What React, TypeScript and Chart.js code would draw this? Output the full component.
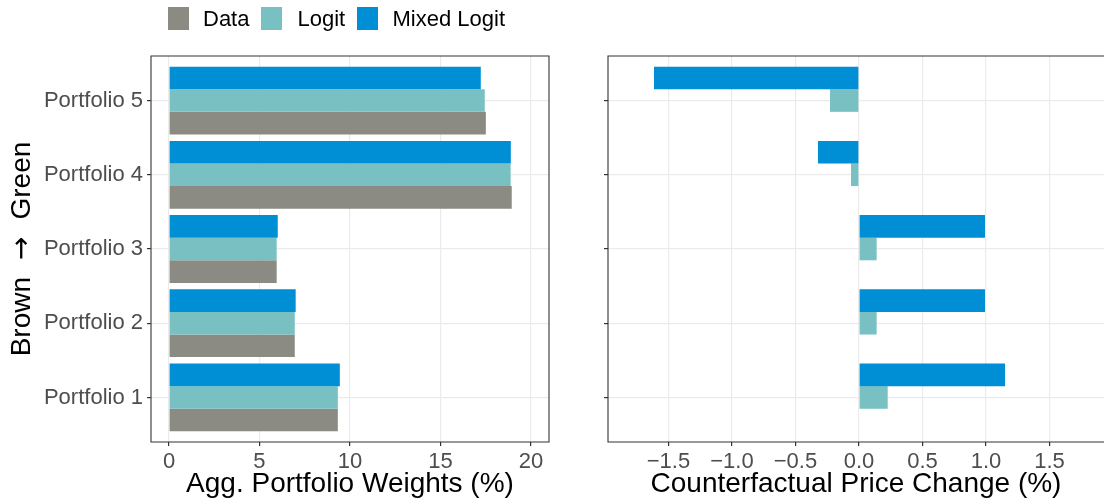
import React, { useEffect, useRef } from 'react';
import { Chart, registerables } from 'chart.js';

Chart.register(...registerables);

const FONT = "'Liberation Sans', Arial, Helvetica, sans-serif";
Chart.defaults.font.family = FONT;

// ---- data ----
const portfolios = ['Portfolio 1', 'Portfolio 2', 'Portfolio 3', 'Portfolio 4', 'Portfolio 5'];
const seriesNames = ['Data', 'Logit', 'Mixed Logit'];
const seriesColors = ['#8b8b83', '#78c0c2', '#008fd5'];

const weightsData = [9.33, 6.95, 5.95, 18.94, 17.51];
const weightsLogit = [9.33, 6.95, 5.95, 18.88, 17.45];
const weightsMixed = [9.44, 7.0, 6.01, 18.89, 17.23];

const priceData: (number | null)[] = [null, null, null, null, null];
const priceLogit = [0.226, 0.139, 0.139, -0.063, -0.228];
const priceMixed = [1.15, 0.992, 0.992, -0.323, -1.614];

const weightTicks = [0, 5, 10, 15, 20];
const priceTicks = [-1.5, -1.0, -0.5, 0.0, 0.5, 1.0, 1.5];
const categoryTicks = [1, 2, 3, 4, 5];
const yTitleParts = ['Brown', '\u2192', 'Green'];

const GRID = '#ebebeb';
const DARK = '#333333';
const TICKTXT = '#4d4d4d';

const borderPlugin = {
  id: 'panelBorder',
  afterDraw(chart: any, _args: any, opts: any) {
    const { ctx, chartArea } = chart;
    const { left, right, top, bottom } = chartArea;
    ctx.save();
    ctx.strokeStyle = DARK;
    ctx.lineWidth = 1.1;
    ctx.beginPath();
    if (opts && opts.open) {
      ctx.moveTo(right + 2, top);
      ctx.lineTo(left, top);
      ctx.lineTo(left, bottom);
      ctx.lineTo(right + 2, bottom);
    } else {
      ctx.rect(left, top, right - left, bottom - top);
    }
    ctx.stroke();

    if (opts && opts.ytitle) {
      // rotated y title with a thin arrow
      ctx.translate(22.5, (top + bottom) / 2);
      ctx.rotate(-Math.PI / 2);
      ctx.fillStyle = '#000000';
      ctx.textBaseline = 'middle';
      ctx.textAlign = 'left';
      const txtFont = `28px ${FONT}`;
      const arrowFont = `28px 'Noto Sans', 'DejaVu Sans', sans-serif`;
      const gap = 17;
      ctx.font = txtFont;
      const w0 = ctx.measureText(yTitleParts[0]).width;
      const w2 = ctx.measureText(yTitleParts[2]).width;
      ctx.font = arrowFont;
      const w1 = ctx.measureText(yTitleParts[1]).width;
      const total = w0 + gap + w1 + gap + w2;
      let x = -total / 2;
      ctx.font = txtFont;
      ctx.fillText(yTitleParts[0], x, 0);
      x += w0 + gap;
      ctx.font = arrowFont;
      ctx.fillText(yTitleParts[1], x, 0);
      x += w1 + gap;
      ctx.font = txtFont;
      ctx.fillText(yTitleParts[2], x, 0);
    }
    ctx.restore();
  },
};

function toPoints(vals: (number | null)[]) {
  return vals.map((v, i) => ({ x: v, y: i + 1 }));
}

function makeDatasets(data: (number | null)[], logit: (number | null)[], mixed: (number | null)[]) {
  // order: top bar first within a group
  return [
    { label: seriesNames[2], data: toPoints(mixed), backgroundColor: seriesColors[2] },
    { label: seriesNames[1], data: toPoints(logit), backgroundColor: seriesColors[1] },
    { label: seriesNames[0], data: toPoints(data), backgroundColor: seriesColors[0] },
  ].map((d) => ({ ...d, borderWidth: 0, barPercentage: 1, categoryPercentage: 0.913 }));
}

function fmtPrice(v: number) {
  return v.toFixed(1).replace('-', '\u2212');
}

function makeOptions(cfg: {
  xmin: number;
  xmax: number;
  xticks: number[];
  xfmt: (v: number) => string;
  xtitle: string;
  yWidth: number;
  ylabels: boolean;
  ytitle: boolean;
  padRight: number;
  open: boolean;
}) {
  return {
    indexAxis: 'y' as const,
    animation: false as const,
    responsive: false,
    events: [] as any[],
    layout: { padding: { top: 56, right: cfg.padRight, bottom: 0, left: 0 } },
    plugins: {
      legend: { display: false },
      tooltip: { enabled: false },
      panelBorder: { open: cfg.open, ytitle: cfg.ytitle },
    },
    scales: {
      x: {
        type: 'linear' as const,
        min: cfg.xmin,
        max: cfg.xmax,
        offset: false,
        afterBuildTicks: (s: any) => {
          s.ticks = cfg.xticks.map((v) => ({ value: v }));
        },
        afterFit: (s: any) => {
          s.height = 61;
        },
        border: { display: false },
        grid: { color: GRID, lineWidth: 1.2, tickColor: DARK, tickLength: 4, drawTicks: true, offset: false },
        ticks: {
          autoSkip: false,
          maxRotation: 0,
          padding: 3,
          color: TICKTXT,
          font: { family: FONT, size: 22 },
          callback: (v: any) => cfg.xfmt(Number(v)),
        },
        title: {
          display: true,
          text: cfg.xtitle,
          color: '#000000',
          font: { family: FONT, size: 28 },
          padding: { top: 0, bottom: 2 },
        },
      },
      y: {
        type: 'linear' as const,
        min: 0.4,
        max: 5.6,
        offset: false,
        afterBuildTicks: (s: any) => {
          s.ticks = categoryTicks.map((v) => ({ value: v }));
        },
        afterFit: (s: any) => {
          s.width = cfg.yWidth;
        },
        border: { display: false },
        grid: { color: GRID, lineWidth: 1.2, tickColor: DARK, tickLength: 4, drawTicks: true, offset: false },
        ticks: {
          autoSkip: false,
          padding: 4,
          color: TICKTXT,
          font: { family: FONT, size: 22 },
          callback: (v: any) => (cfg.ylabels ? portfolios[Number(v) - 1] : ''),
        },
        title: { display: false },
      },
    },
  };
}

function BarPanel(props: { width: number; left: number; datasets: any[]; options: any }) {
  const ref = useRef<HTMLCanvasElement | null>(null);
  useEffect(() => {
    if (!ref.current) return;
    const chart = new Chart(ref.current, {
      type: 'bar',
      data: { datasets: props.datasets },
      options: props.options,
      plugins: [borderPlugin],
    } as any);
    return () => chart.destroy();
  }, []);
  return (
    <canvas
      ref={ref}
      width={props.width}
      height={503}
      style={{ position: 'absolute', left: props.left, top: 0, width: props.width, height: 503 }}
    />
  );
}

function Legend() {
  const keys = [
    { sq: 168, tx: 203 },
    { sq: 261, tx: 297.5 },
    { sq: 357, tx: 392.5 },
  ];
  return (
    <>
      {seriesNames.map((name, i) => (
        <React.Fragment key={name}>
          <div
            style={{
              position: 'absolute',
              left: keys[i].sq,
              top: 7,
              width: 21,
              height: 23,
              background: seriesColors[i],
            }}
          />
          <div
            style={{
              position: 'absolute',
              left: keys[i].tx,
              top: 18.5,
              transform: 'translateY(-50%)',
              fontFamily: FONT,
              fontSize: 22,
              lineHeight: 1,
              color: '#000',
              whiteSpace: 'nowrap',
            }}
          >
            {name}
          </div>
        </React.Fragment>
      ))}
    </>
  );
}

export default function App() {
  const leftOptions = makeOptions({
    xmin: -0.995,
    xmax: 21.0,
    xticks: weightTicks,
    xfmt: (v) => String(v),
    xtitle: 'Agg. Portfolio Weights (%)',
    yWidth: 151,
    ylabels: true,
    ytitle: true,
    padRight: 11,
    open: false,
  });
  const rightOptions = makeOptions({
    xmin: -1.976,
    xmax: 1.929,
    xticks: priceTicks,
    xfmt: fmtPrice,
    xtitle: 'Counterfactual Price Change (%)',
    yWidth: 48,
    ylabels: false,
    ytitle: false,
    padRight: 0,
    open: true,
  });
  return (
    <div
      style={{
        position: 'absolute',
        left: 0,
        top: 0,
        width: 1104,
        height: 503,
        overflow: 'hidden',
        background: '#ffffff',
      }}
    >
      <BarPanel width={560} left={0} datasets={makeDatasets(weightsData, weightsLogit, weightsMixed)} options={leftOptions} />
      <BarPanel width={544} left={560} datasets={makeDatasets(priceData, priceLogit, priceMixed)} options={rightOptions} />
      <Legend />
    </div>
  );
}
